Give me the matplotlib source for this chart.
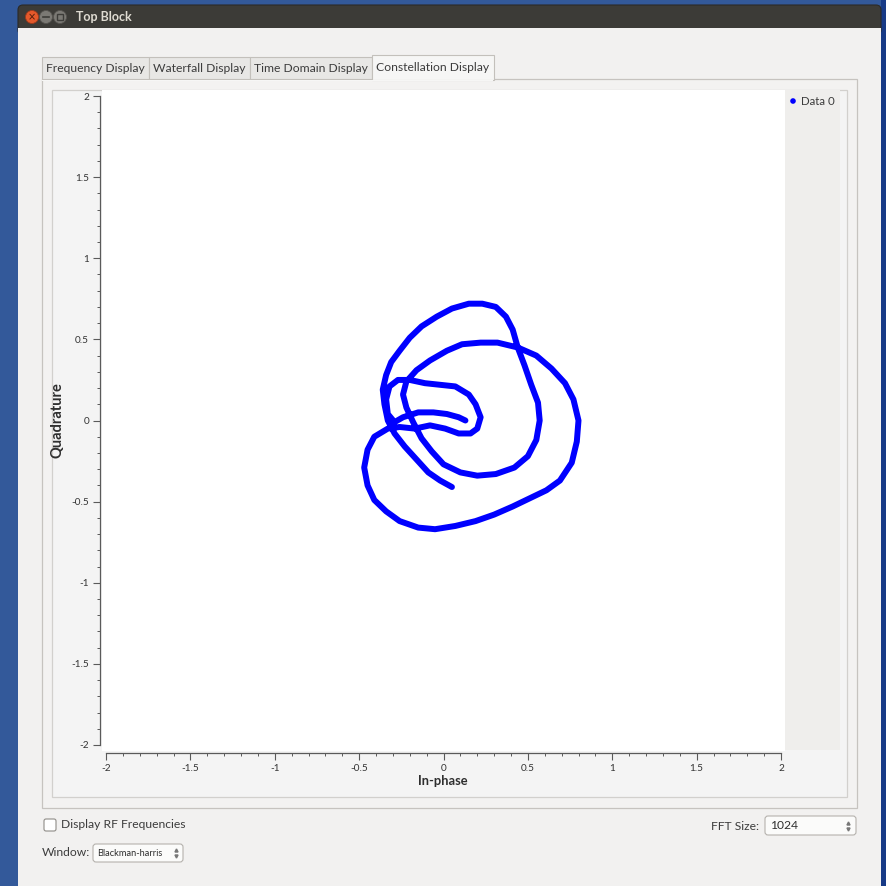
import matplotlib
matplotlib.use('Agg')
import matplotlib.pyplot as plt
from matplotlib.patches import Rectangle, FancyBboxPatch, Circle
from matplotlib.ticker import MultipleLocator, FuncFormatter

# constellation samples traced off the display (In-phase, Quadrature)
i_vals = [0.05, -0.02, -0.09, -0.16, -0.23, -0.29, -0.33, -0.35, -0.36, -0.34,
          -0.31, -0.26, -0.20, -0.13, -0.04, 0.05, 0.15, 0.23, 0.31, 0.37,
          0.41, 0.44, 0.48, 0.52, 0.56, 0.57, 0.55, 0.50, 0.42, 0.31,
          0.20, 0.10, 0.00, -0.07, -0.13, -0.18, -0.22, -0.24, -0.22, -0.16,
          -0.08, 0.02, 0.11, 0.22, 0.32, 0.44, 0.55, 0.64, 0.72, 0.77,
          0.80, 0.79, 0.76, 0.69, 0.61, 0.51, 0.41, 0.30, 0.19, 0.07,
          -0.05, -0.15, -0.26, -0.34, -0.41, -0.45, -0.47, -0.45, -0.41, -0.33,
          -0.26, -0.17, -0.08, 0.01, 0.09, 0.16, 0.20, 0.22, 0.19, 0.15,
          0.07, -0.02, -0.11, -0.20, -0.27, -0.32, -0.34, -0.33, -0.29, -0.24,
          -0.15, -0.06, 0.02, 0.09, 0.13]
q_vals = [-0.41, -0.37, -0.32, -0.24, -0.16, -0.08, 0.00, 0.10, 0.19, 0.28,
          0.36, 0.43, 0.51, 0.58, 0.64, 0.69, 0.72, 0.72, 0.70, 0.64,
          0.56, 0.45, 0.34, 0.22, 0.11, 0.00, -0.12, -0.22, -0.29, -0.33,
          -0.34, -0.32, -0.27, -0.19, -0.11, -0.01, 0.08, 0.16, 0.24, 0.31,
          0.37, 0.43, 0.47, 0.48, 0.48, 0.45, 0.40, 0.32, 0.23, 0.13,
          0.00, -0.13, -0.26, -0.37, -0.43, -0.48, -0.53, -0.58, -0.62, -0.65,
          -0.67, -0.66, -0.62, -0.56, -0.49, -0.40, -0.29, -0.18, -0.10, -0.05,
          -0.04, -0.05, -0.03, -0.05, -0.08, -0.08, -0.05, 0.02, 0.10, 0.16,
          0.21, 0.22, 0.23, 0.25, 0.25, 0.21, 0.13, 0.04, -0.01, 0.02,
          0.05, 0.05, 0.04, 0.02, 0.00]

tab_names = ['Frequency Display', 'Waterfall Display', 'Time Domain Display', 'Constellation Display']
tab_edges = [42, 149, 250, 372, 494]
series_name = 'Data 0'
window_name = 'Blackman-harris'
fft_size = '1024'

plt.rcParams['font.family'] = ['Lato', 'DejaVu Sans']
plt.rcParams['axes.unicode_minus'] = False

W = 886
fig = plt.figure(figsize=(8.86, 8.86), dpi=100)

# background layer in pixel coords (y down)
bg = fig.add_axes([0, 0, 1, 1])
bg.set_xlim(0, W)
bg.set_ylim(W, 0)
bg.axis('off')


def box(x0, y0, x1, y1, fc, ec='none', lw=1, z=1):
    bg.add_patch(Rectangle((x0, y0), x1 - x0, y1 - y0, facecolor=fc,
                           edgecolor=ec, linewidth=lw, zorder=z))


# desktop + window
box(0, 0, W, W, '#33599a', z=0)
box(881, 0, W, W, '#173a86', z=0)
bg.add_patch(FancyBboxPatch((18, 5), 863, 30, boxstyle='round,pad=0,rounding_size=5',
                            facecolor='#3c3b37', edgecolor='#2b2a27', lw=0.8, zorder=1))
box(18, 28, 881, W, '#f2f1f0', z=2)

# title bar buttons
bg.add_patch(Circle((32, 17), 6.5, facecolor='#e4592b', edgecolor='#9c3a1c', lw=0.6, zorder=3))
bg.text(32, 17.5, '×', color='#4a1a0a', fontsize=7, ha='center', va='center', zorder=4, family='DejaVu Sans')
for cx in (46, 60):
    bg.add_patch(Circle((cx, 17), 6.5, facecolor='#7b7974', edgecolor='#55534f', lw=0.6, zorder=3))
bg.plot([43, 49], [17, 17], color='#3d3c39', lw=1.2, zorder=4)
bg.add_patch(Rectangle((57, 14), 6, 6, facecolor='none', edgecolor='#3d3c39', lw=1, zorder=4))
bg.text(76, 17, 'Top Block', color='#dfdbd2', fontsize=9, fontweight='bold',
        ha='left', va='center', zorder=4)

# tabs
for k, name in enumerate(tab_names):
    x0, x1 = tab_edges[k], tab_edges[k + 1]
    active = k == len(tab_names) - 1
    top = 55 if active else 57
    fc = '#f6f6f5' if active else '#e8e7e5'
    box(x0, top, x1, 80 if active else 79, fc, ec='#c3c0bb', lw=0.8, z=4)
    bg.text((x0 + x1) / 2, 68 if not active else 67, name, fontsize=8.7, color='#3c3c3c',
            ha='center', va='center', zorder=6)

# tab pane and plot frame
box(42, 79, 857, 808, '#f3f2f1', ec='#c6c3bf', lw=0.9, z=3)
box(42.5, 79.5, 493.5, 81, '#f6f6f5', z=5)
box(52, 90, 847, 797, '#f4f4f4', ec='#d2d0cd', lw=0.9, z=4)
box(102, 90, 785, 751, 'white', z=5)
box(785, 90, 840, 750, '#efeeec', z=5)

# legend
bg.add_patch(Circle((793, 101), 2.8, facecolor='#0000ff', edgecolor='none', zorder=6))
bg.text(801, 101, series_name, fontsize=8.3, color='#3c3c3c', ha='left', va='center', zorder=6)

# axis titles
bg.text(443, 781, 'In-phase', fontsize=9.3, fontweight='bold', color='#2e2e2e',
        ha='center', va='center', zorder=6)
bg.text(58, 420, 'Quadrature', fontsize=10.5, fontweight='bold', color='#2e2e2e',
        ha='center', va='center', rotation=90, zorder=6)

# bottom controls
bg.add_patch(FancyBboxPatch((44, 819), 12, 12, boxstyle='round,pad=0,rounding_size=2',
                            facecolor='white', edgecolor='#8f8c87', lw=0.8, zorder=6))
bg.text(61, 825, 'Display RF Frequencies', fontsize=8.7, color='#3c3c3c',
        ha='left', va='center', zorder=6)
bg.text(42, 853, 'Window:', fontsize=8.7, color='#3c3c3c', ha='left', va='center', zorder=6)
bg.add_patch(FancyBboxPatch((93, 844), 90, 18, boxstyle='round,pad=0,rounding_size=3',
                            facecolor='#fbfbfa', edgecolor='#b5b2ad', lw=0.8, zorder=6))
bg.text(97, 853, window_name, fontsize=6.7, color='#2e2e2e', ha='left', va='center', zorder=7)
bg.text(759, 826, 'FFT Size:', fontsize=8.7, color='#3c3c3c', ha='right', va='center', zorder=6)
bg.add_patch(FancyBboxPatch((765, 816), 91, 19, boxstyle='round,pad=0,rounding_size=3',
                            facecolor='#fbfbfa', edgecolor='#b5b2ad', lw=0.8, zorder=6))
bg.text(770, 825.5, fft_size, fontsize=8.7, color='#2e2e2e', ha='left', va='center', zorder=7)
for ax_x, ay in ((176, 853), (848, 825.5)):
    bg.plot([ax_x], [ay - 3], marker='^', ms=2.2, color='#777', zorder=7)
    bg.plot([ax_x], [ay + 3], marker='v', ms=2.2, color='#777', zorder=7)

# constellation axes: data box spans px x 106..781, y 96..745
ax = fig.add_axes([106 / W, 1 - 745 / W, 675 / W, 649 / W])
ax.set_facecolor('none')
ax.set_xlim(-2, 2)
ax.set_ylim(-2, 2)
for s in ('top', 'right'):
    ax.spines[s].set_visible(False)
ax.spines['left'].set_position(('outward', 4.3))
ax.spines['bottom'].set_position(('outward', 5.8))
for s in ('left', 'bottom'):
    ax.spines[s].set_bounds(-2, 2)
    ax.spines[s].set_color('#5a5a5a')
    ax.spines[s].set_linewidth(0.9)
ax.xaxis.set_major_locator(MultipleLocator(0.5))
ax.yaxis.set_major_locator(MultipleLocator(0.5))
ax.xaxis.set_minor_locator(MultipleLocator(0.1))
ax.yaxis.set_minor_locator(MultipleLocator(0.1))
fmt = FuncFormatter(lambda v, p: f'{v:g}')
ax.xaxis.set_major_formatter(fmt)
ax.yaxis.set_major_formatter(fmt)
ax.tick_params(which='major', length=4.8, width=0.8, color='#5a5a5a',
               labelsize=7.2, labelcolor='#333333', pad=3)
ax.tick_params(which='minor', length=2.5, width=0.7, color='#5a5a5a')

ax.plot(i_vals, q_vals, color='#0000ff', lw=4.3, solid_capstyle='round',
        solid_joinstyle='round', zorder=3)

fig.savefig('out.png', dpi=100)
